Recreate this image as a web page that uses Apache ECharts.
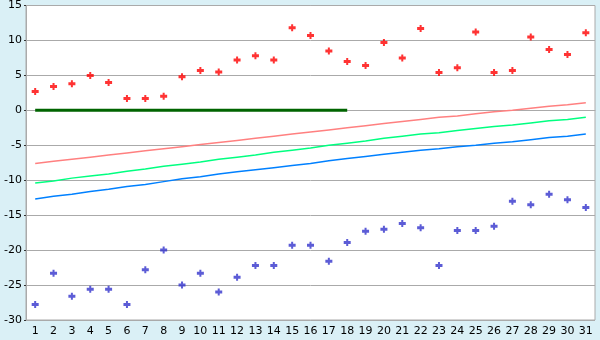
<!DOCTYPE html>
<html>
<head>
<meta charset="utf-8">
<script src="https://cdn.jsdelivr.net/npm/echarts@6/dist/echarts.min.js"></script>
<style>html,body{margin:0;padding:0;background:#daf0f6;}#c{width:600px;height:340px;}</style>
</head>
<body>
<div id="c"></div>
<script>
var categories = [];
for (var d = 1; d <= 31; d++) categories.push(String(d));

var redPoints = [2.7,3.4,3.8,5.0,4.0,1.7,1.7,2.0,4.8,5.7,5.5,7.2,7.8,7.2,11.8,10.7,8.5,7.0,6.4,9.7,7.5,11.7,5.4,6.1,11.2,5.4,5.7,10.5,8.7,8.0,11.1];
var bluePoints = [-27.8,-23.3,-26.6,-25.6,-25.6,-27.8,-22.8,-20.0,-25.0,-23.3,-26.0,-23.9,-22.2,-22.2,-19.3,-19.3,-21.6,-18.9,-17.3,-17.0,-16.2,-16.8,-22.2,-17.2,-17.2,-16.6,-13.0,-13.5,-12.0,-12.8,-13.9];
var pinkLine = [-7.6,-7.3,-7.0,-6.7,-6.4,-6.1,-5.8,-5.5,-5.2,-4.9,-4.6,-4.3,-4.0,-3.7,-3.4,-3.1,-2.8,-2.5,-2.2,-1.9,-1.6,-1.3,-1.0,-0.8,-0.5,-0.2,0.0,0.3,0.6,0.8,1.1];
var greenLine = [-10.4,-10.1,-9.7,-9.4,-9.1,-8.7,-8.4,-8.0,-7.7,-7.4,-7.0,-6.7,-6.4,-6.0,-5.7,-5.4,-5.0,-4.7,-4.4,-4.0,-3.7,-3.4,-3.2,-2.9,-2.6,-2.3,-2.1,-1.8,-1.5,-1.3,-1.0];
var blueLine = [-12.7,-12.3,-12.0,-11.6,-11.3,-10.9,-10.6,-10.2,-9.8,-9.5,-9.1,-8.8,-8.5,-8.2,-7.9,-7.6,-7.2,-6.9,-6.6,-6.3,-6.0,-5.7,-5.5,-5.2,-5.0,-4.7,-4.5,-4.2,-3.9,-3.7,-3.4];
var zeroLine = [0,0,0,0,0,0,0,0,0,0,0,0,0,0,0,0,0,0,null,null,null,null,null,null,null,null,null,null,null,null,null];
var yTicks = {min: -30, max: 15, interval: 5};

var marker = 'path://M2.5,0H4.5V2H7V5H4.5V7H2.5V5H0V2H2.5Z';
var chart = echarts.init(document.getElementById('c'), null, {renderer: 'canvas'});
var font = {fontFamily: 'DejaVu Sans', fontSize: 11, color: '#000'};
chart.setOption({
  animation: false,
  backgroundColor: '#daf0f6',
  grid: {left: 26, right: 5, top: 5, bottom: 20, show: true, backgroundColor: '#fff', borderColor: '#aaa', borderWidth: 1},
  xAxis: {
    type: 'category', data: categories, boundaryGap: true,
    axisLine: {lineStyle: {color: '#aaa', width: 1}},
    axisTick: {alignWithLabel: true, length: 4, lineStyle: {color: '#333'}},
    axisLabel: Object.assign({margin: 6, interval: 0}, font),
    splitLine: {show: false}
  },
  yAxis: {
    type: 'value', min: yTicks.min, max: yTicks.max, interval: yTicks.interval,
    axisLine: {show: true, lineStyle: {color: '#aaa', width: 1}},
    axisTick: {show: true, length: 2, lineStyle: {color: '#333'}},
    axisLabel: Object.assign({margin: 4}, font),
    splitLine: {lineStyle: {color: '#aaa', width: 1}}
  },
  series: [
    {type: 'line', data: zeroLine, symbol: 'none', lineStyle: {color: '#006400', width: 3}, z: 2},
    {type: 'line', data: pinkLine, symbol: 'none', lineStyle: {color: '#ff8080', width: 1.5}, z: 3},
    {type: 'line', data: greenLine, symbol: 'none', lineStyle: {color: '#00ff80', width: 1.5}, z: 3},
    {type: 'line', data: blueLine, symbol: 'none', lineStyle: {color: '#0080ff', width: 1.5}, z: 3},
    {type: 'scatter', data: redPoints, symbol: marker, symbolSize: 7, itemStyle: {color: '#ff0000'}, z: 5},
    {type: 'scatter', data: bluePoints, symbol: marker, symbolSize: 7, itemStyle: {color: '#3333cc'}, z: 5}
  ]
});
</script>
</body>
</html>
